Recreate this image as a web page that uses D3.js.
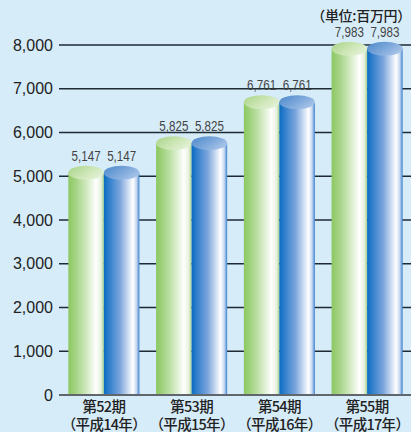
<!DOCTYPE html>
<html>
<head>
<meta charset="utf-8">
<script src="https://cdn.jsdelivr.net/npm/d3@7"></script>
<style>
  html, body { margin: 0; padding: 0; background: #d6ecf9; }
  svg { display: block; }
</style>
</head>
<body>
<script>
// Periods (fiscal terms) and their year labels
const periods = ["第52期", "第53期", "第54期", "第55期"];
const years = ["（平成14年）", "（平成15年）", "（平成16年）", "（平成17年）"];
// Two series drawn side by side for each period (millions of yen)
const greenValues = [5147, 5825, 6761, 7983];
const blueValues = [5147, 5825, 6761, 7983];
const yTicks = [0, 1000, 2000, 3000, 4000, 5000, 6000, 7000, 8000];
const unitLabel = "（単位:百万円）";

const W = 411, H = 432;
const svg = d3.select("body").append("svg").attr("width", W).attr("height", H);

svg.append("rect").attr("width", W).attr("height", H).attr("fill", "#d6ecf9");

const y = d3.scaleLinear().domain([0, 8000]).range([395, 45]);
const x = d3.scaleBand().domain(periods).range([60, 411]).paddingInner(0.19).paddingOuter(0.095);
const sub = d3.scaleBand().domain(["green", "blue"]).range([0, x.bandwidth()]);

// Gradients for the cylinders
const defs = svg.append("defs");
function grad(id, stops, x2 = "100%", y2 = "0%") {
  const g = defs.append("linearGradient").attr("id", id)
    .attr("x1", "0%").attr("y1", "0%").attr("x2", x2).attr("y2", y2);
  stops.forEach(([o, c]) => g.append("stop").attr("offset", o).attr("stop-color", c));
}
grad("gBody", [["0%", "#8cc862"], ["20%", "#a3d382"], ["50%", "#cfe8bd"], ["78%", "#ffffff"], ["92%", "#e6f1de"], ["100%", "#a6cf8e"]]);
grad("bBody", [["0%", "#0a6cbf"], ["12%", "#2a7ccb"], ["45%", "#7aa4dc"], ["82%", "#ffffff"], ["92%", "#c4d6ef"], ["100%", "#3d82cf"]]);
grad("gTop", [["0%", "#a7d486"], ["60%", "#cde6b6"], ["100%", "#e2f1d6"]], "100%", "60%");
grad("bTop", [["0%", "#4b89ca"], ["60%", "#7fa9dc"], ["100%", "#a6c3e8"]], "100%", "60%");

// Horizontal grid lines
const gridX0 = 59;
svg.append("g").selectAll("line").data(yTicks.filter(d => d > 0)).join("line")
  .attr("x1", gridX0).attr("x2", W)
  .attr("y1", d => y(d)).attr("y2", d => y(d))
  .attr("stroke", "#1e2a33").attr("stroke-width", 1.3);

// Y axis labels
svg.append("g").selectAll("text").data(yTicks).join("text")
  .attr("x", 53).attr("y", d => y(d) + 5.5)
  .attr("text-anchor", "end")
  .attr("font-family", "'Liberation Sans', Arial, sans-serif")
  .attr("font-size", 16).attr("fill", "#222")
  .text(d => d3.format(",")(d));

// Cylinders
const ry = 7;
const series = [
  { key: "green", values: greenValues, body: "url(#gBody)", top: "url(#gTop)" },
  { key: "blue", values: blueValues, body: "url(#bBody)", top: "url(#bTop)" }
];
const bars = [];
periods.forEach((p, i) => {
  series.forEach(s => bars.push({ period: p, key: s.key, value: s.values[i], body: s.body, top: s.top }));
});

const cyl = svg.append("g").selectAll("g").data(bars).join("g");
cyl.append("rect")
  .attr("x", d => x(d.period) + sub(d.key))
  .attr("width", sub.bandwidth())
  .attr("y", d => y(d.value) + 3)
  .attr("height", d => y(0) - y(d.value) - 3)
  .attr("fill", d => d.body);
cyl.append("ellipse")
  .attr("cx", d => x(d.period) + sub(d.key) + sub.bandwidth() / 2)
  .attr("cy", d => y(d.value) + 3)
  .attr("rx", sub.bandwidth() / 2)
  .attr("ry", ry)
  .attr("fill", d => d.top);

// Value labels above each cylinder, in a condensed face
svg.append("g").selectAll("text").data(bars).join("text")
  .attr("transform", d => {
    const cx = x(d.period) + sub(d.key) + sub.bandwidth() / 2;
    const ty = y(d.value) + 3 - ry - 5;
    return `translate(${cx},${ty}) scale(0.8,1)`;
  })
  .attr("text-anchor", "middle")
  .attr("font-family", "'Liberation Sans', Arial, sans-serif")
  .attr("font-size", 14.5).attr("fill", "#444")
  .text(d => d3.format(",")(d.value));

// Baseline
svg.append("line")
  .attr("x1", gridX0).attr("x2", W)
  .attr("y1", y(0)).attr("y2", y(0))
  .attr("stroke", "#5f676c").attr("stroke-width", 2);

// Category labels: period on the first line, year on the second
const catFont = g => g
  .attr("text-anchor", "middle")
  .attr("font-family", "'Noto Sans CJK JP', sans-serif")
  .attr("font-weight", 500)
  .attr("font-size", 14.5).attr("letter-spacing", -0.7).attr("fill", "#222");
svg.append("g").selectAll("text").data(periods).join("text")
  .call(catFont)
  .attr("x", d => x(d) + x.bandwidth() / 2).attr("y", 411.5)
  .text(d => d);
svg.append("g").selectAll("text").data(periods).join("text")
  .call(catFont)
  .attr("x", d => x(d) + x.bandwidth() / 2).attr("y", 429.5)
  .text((d, i) => years[i]);

// Unit label
svg.append("text")
  .attr("x", 411).attr("y", 21)
  .attr("text-anchor", "end")
  .attr("font-family", "'Noto Sans CJK JP', sans-serif")
  .attr("font-weight", 500)
  .attr("font-size", 14).attr("letter-spacing", -0.3).attr("fill", "#222")
  .text(unitLabel);
</script>
</body>
</html>
